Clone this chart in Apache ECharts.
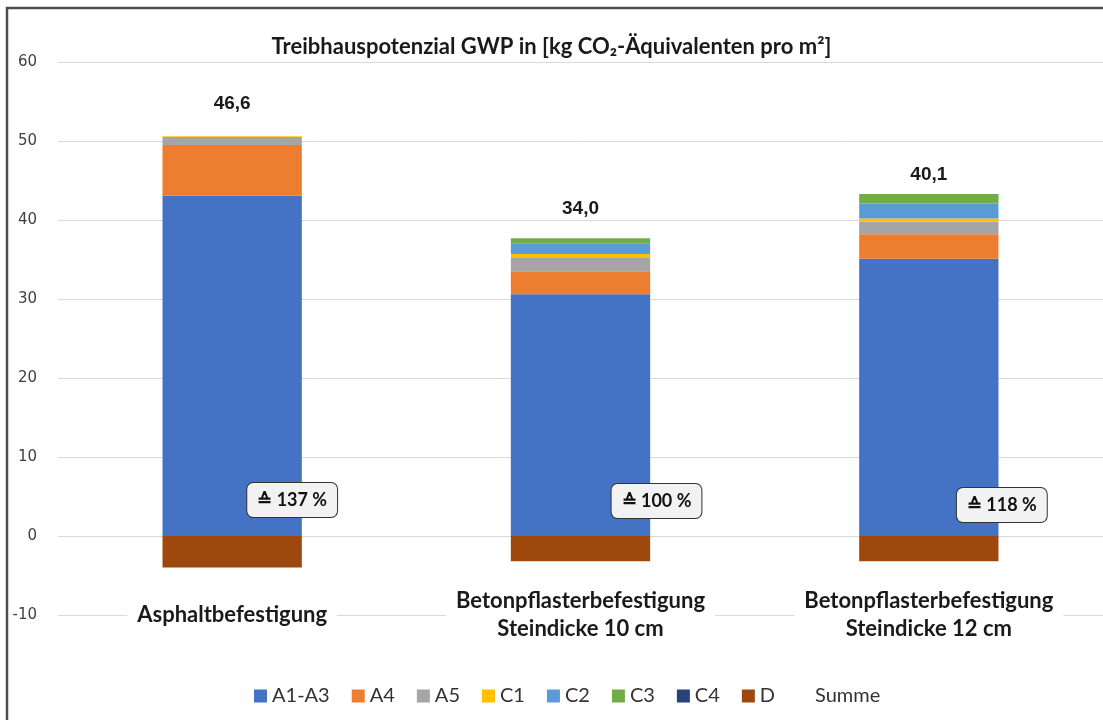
<!DOCTYPE html>
<html>
<head>
<meta charset="utf-8">
<script src="https://cdn.jsdelivr.net/npm/echarts@6/dist/echarts.min.js"></script>
<style>
html,body{margin:0;padding:0;background:#fff;}
#c{width:1103px;height:720px;}
</style>
</head>
<body>
<div id="c"></div>
<script>
// ---- data ----
const categories = ['Asphaltbefestigung', 'Betonpflasterbefestigung\nSteindicke 10 cm', 'Betonpflasterbefestigung\nSteindicke 12 cm'];
const seriesNames = ['A1-A3', 'A4', 'A5', 'C1', 'C2', 'C3', 'C4', 'D'];
const A1A3 = [43.1, 30.6, 35.1];
const A4 = [6.4, 2.9, 3.1];
const A5 = [1.0, 1.8, 1.6];
const C1 = [0.1, 0.4, 0.4];
const C2 = [0.0, 1.3, 1.9];
const C3 = [0.0, 0.7, 1.2];
const C4 = [0.0, 0.0, 0.0];
const D = [-4.0, -3.2, -3.2];
const summe = [46.6, 34.0, 40.1];
const percent = [137, 100, 118];
const yTicks = [-10, 0, 10, 20, 30, 40, 50, 60];

// ---- styles ----
const colors = ['#4472C4', '#ED7D31', '#A5A5A5', '#FFC000', '#5B9BD5', '#70AD47', '#264478', '#9E480E'];
const sumLabelOffset = [[0, -32], [0, -29], [0, -19]];
const pctLabelOffset = [[60, -36], [76, -35], [73, -31]];
const values = [A1A3, A4, A5, C1, C2, C3, C4, D];

const stackTop = categories.map((_, i) => values.reduce((s, arr) => s + (arr[i] > 0 ? arr[i] : 0), 0));

const barSeries = seriesNames.map((n, k) => ({
  name: n,
  type: 'bar',
  stack: 'total',
  barWidth: '40%',
  itemStyle: { color: colors[k] },
  emphasis: { disabled: true },
  data: values[k]
}));

const sumSeries = {
  name: 'Summe',
  type: 'scatter',
  symbolSize: 0,
  silent: true,
  z: 5,
  itemStyle: { opacity: 1, color: '#fff' },
  data: categories.map((c, i) => ({
    value: [i, stackTop[i]],
    label: {
      show: true,
      position: 'inside',
      offset: sumLabelOffset[i],
      formatter: () => summe[i].toFixed(1).replace('.', ','),
      fontFamily: 'Liberation Sans',
      fontWeight: 'bold',
      fontSize: 19,
      color: '#1a1a1a'
    }
  }))
};

const pctSeries = {
  name: 'pct',
  type: 'scatter',
  symbolSize: 0,
  silent: true,
  z: 6,
  itemStyle: { opacity: 1 },
  data: categories.map((c, i) => ({
    value: [i, 0],
    label: {
      show: true,
      position: 'inside',
      offset: pctLabelOffset[i],
      formatter: () => '\u2259 ' + percent[i] + ' %',
      fontFamily: 'Lato',
      fontWeight: 'bold',
      fontSize: 18,
      color: '#111',
      backgroundColor: '#f2f2f2',
      borderColor: '#333',
      borderWidth: 1,
      borderRadius: 6,
      padding: [8, 10, 8, 10]
    }
  }))
};

const chart = echarts.init(document.getElementById('c'), null, { renderer: 'canvas' });
chart.setOption({
  animation: false,
  backgroundColor: '#fff',
  title: {
    text: 'Treibhauspotenzial GWP in [kg CO\u2082-Äquivalenten pro m²]',
    left: 'center',
    top: 31,
    textStyle: { fontFamily: 'Lato', fontWeight: 'bold', fontSize: 22, color: '#1a1a1a' }
  },
  legend: {
    bottom: 9,
    left: 249,
    itemWidth: 13,
    itemHeight: 13,
    itemGap: 22,
    textStyle: { fontFamily: 'Lato', fontSize: 20, color: '#333' },
    data: seriesNames.map(n => ({ name: n, icon: 'rect' })).concat([{ name: 'Summe', icon: 'none' }])
  },
  graphic: [{
    type: 'rect',
    shape: { x: 7, y: 8, width: 1200, height: 800 },
    style: { fill: 'none', stroke: '#4d4d4d', lineWidth: 2.5 },
    silent: true,
    z: 100
  }],
  grid: { left: 58, top: 62, width: 1049, height: 553 },
  xAxis: {
    type: 'category',
    data: categories,
    position: 'bottom',
    axisLine: { show: false, onZero: false },
    axisTick: { show: false },
    axisLabel: {
      margin: 0,
      verticalAlign: 'middle',
      fontFamily: 'Lato',
      fontWeight: 'bold',
      fontSize: 22,
      lineHeight: 28,
      color: '#1a1a1a',
      backgroundColor: '#fff',
      padding: [0, 10]
    },
    z: 10
  },
  yAxis: {
    type: 'value',
    min: yTicks[0],
    max: yTicks[yTicks.length - 1],
    interval: 10,
    axisLine: { show: false },
    axisTick: { show: false },
    splitLine: { lineStyle: { color: '#d9d9d9', width: 1 } },
    axisLabel: { margin: 21, fontFamily: 'DejaVu Sans', fontSize: 15, color: '#404040' }
  },
  series: barSeries.concat([sumSeries, pctSeries])
});
</script>
</body>
</html>
